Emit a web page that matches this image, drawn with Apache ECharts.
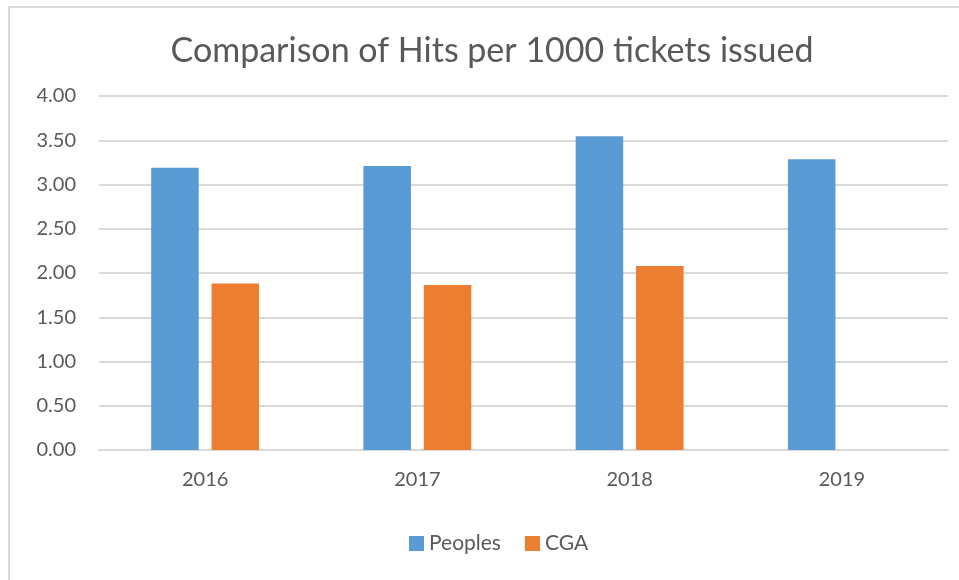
<!DOCTYPE html>
<html><head><meta charset="utf-8">
<script src="https://cdn.jsdelivr.net/npm/echarts@6/dist/echarts.min.js"></script>
<style>
html,body{margin:0;padding:0;background:#fff;}
#frame{position:absolute;left:8px;top:6px;width:960px;height:580px;border-left:2px solid #d9d9d9;border-top:2px solid #d9d9d9;}
#chart{position:absolute;left:0;top:0;width:959px;height:580px;}
</style></head>
<body>
<div id="frame"></div>
<div id="chart"></div>
<script>
const categories = ['2016', '2017', '2018', '2019'];
const peoples = [3.19, 3.21, 3.545, 3.285];
const cga = [1.88, 1.865, 2.08, null];
const seriesNames = ['Peoples', 'CGA'];
const titleText = 'Comparison of Hits per 1000 tickets issued';

const chart = echarts.init(document.getElementById('chart'), null, {renderer: 'canvas'});
const font = 'Lato, "Open Sans", sans-serif';
chart.setOption({
  animation: false,
  backgroundColor: 'transparent',
  title: {
    text: titleText, left: 487, top: 29, textAlign: 'center',
    textStyle: {fontFamily: font, fontSize: 34, fontWeight: 'normal', color: '#595959'}
  },
  legend: {
    data: seriesNames, left: 404, bottom: 21,
    itemWidth: 15, itemHeight: 15, itemGap: 24,
    icon: 'rect',
    textStyle: {fontFamily: font, fontSize: 21, color: '#595959'}
  },
  grid: {left: 99, right: 11, top: 96, bottom: 130, containLabel: false},
  xAxis: {
    type: 'category', data: categories,
    axisLine: {lineStyle: {color: '#d9d9d9', width: 2}},
    axisTick: {show: false},
    axisLabel: {fontFamily: font, fontSize: 20, color: '#595959', margin: 20}
  },
  yAxis: {
    type: 'value', min: 0, max: 4, interval: 0.5,
    axisLine: {show: false}, axisTick: {show: false},
    splitLine: {lineStyle: {color: '#d9d9d9', width: 2}},
    axisLabel: {fontFamily: font, fontSize: 20, color: '#595959', margin: 23,
      formatter: v => v.toFixed(2)}
  },
  series: [
    {name: seriesNames[0], type: 'bar', data: peoples, barWidth: '22.4%', barGap: '27%',
      itemStyle: {color: '#5B9BD5'}},
    {name: seriesNames[1], type: 'bar', data: cga, barWidth: '22.4%',
      itemStyle: {color: '#ED7D31'}}
  ]
});
</script>
</body></html>
